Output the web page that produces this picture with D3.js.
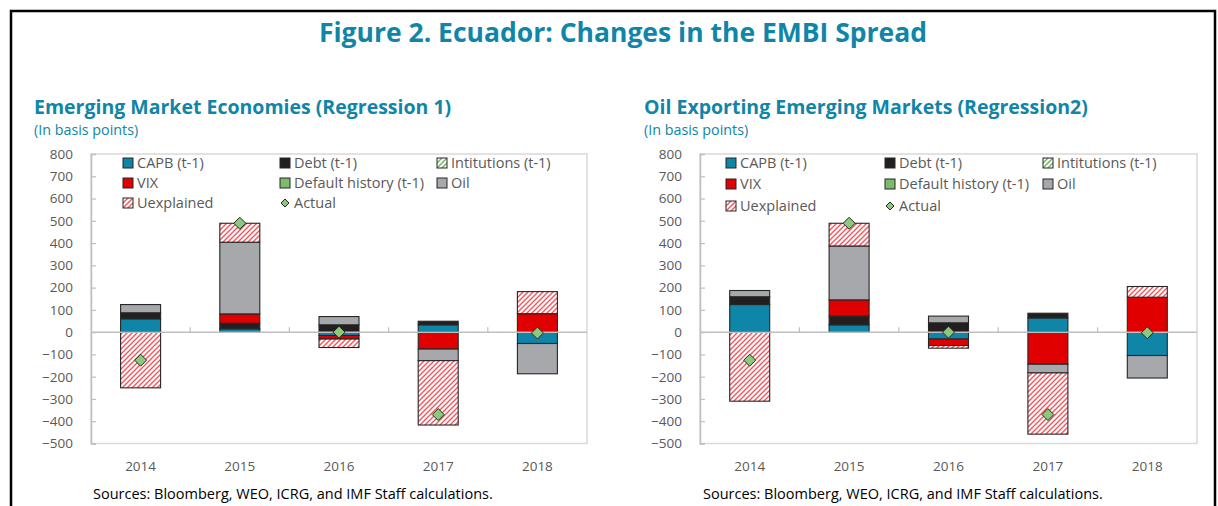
<!DOCTYPE html>
<html>
<head>
<meta charset="utf-8">
<script src="https://cdn.jsdelivr.net/npm/d3@7"></script>
<style>
  body { margin: 0; background: #fff; }
  svg text { font-family: "Open Sans", "Noto Sans", sans-serif; }
</style>
</head>
<body>
<svg id="frame"></svg>
<script>
// size of the page
const FRAME_WIDTH = 1218;
const FRAME_HEIGHT = 506;

// data (basis points)
const years = ["2014", "2015", "2016", "2017", "2018"];
const seriesNames = ["CAPB (t-1)", "Debt (t-1)", "Intitutions (t-1)", "VIX",
                     "Default history (t-1)", "Oil", "Uexplained"];
const yTicks = [800, 700, 600, 500, 400, 300, 200, 100, 0, -100, -200, -300, -400, -500];

// regression 1
const capb1 = [60, 15, -15, 33, -51];
const debt1 = [27, 25, 33, 16, 0];
const inst1 = [0, 0, 0, 0, 0];
const vix1 = [0, 42, -16, -76, 83];
const default1 = [0, 0, 0, 0, 0];
const oil1 = [37, 322, 37, -52, -136];
const unexpl1 = [-250, 85, -38, -289, 99];
const actual1 = [-126, 489, 0, -370, -4];

// regression 2
const capb2 = [124, 33, -31, 64, -105];
const debt2 = [35, 39, 42, 21, 0];
const inst2 = [0, 0, 0, 0, 0];
const vix2 = [0, 73, -29, -144, 157];
const default2 = [0, 0, 0, 0, 0];
const oil2 = [28, 242, 30, -39, -101];
const unexpl2 = [-310, 102, -12, -275, 48];
const actual2 = [-126, 489, 0, -370, -3];

const TEAL = "#0f85a8";
const GREY_TEXT = "#595959";
const FILLS = ["#0f85a8", "#231f20", "url(#instPat)", "#e00000",
               "#7dbb6c", "#a6a8ab", "url(#unexplPat)"];

const FRAME1 = d3.select("#frame")
                  .attr("width", FRAME_WIDTH)
                  .attr("height", FRAME_HEIGHT);

// hatch patterns
const defs = FRAME1.append("defs");
function hatch(id, color) {
  const p = defs.append("pattern")
      .attr("id", id)
      .attr("patternUnits", "userSpaceOnUse")
      .attr("width", 5)
      .attr("height", 5);
  p.append("rect").attr("width", 5).attr("height", 5).attr("fill", "#fff");
  p.append("path")
      .attr("d", "M-1,1 l2,-2 M0,5 l5,-5 M4,6 l2,-2")
      .attr("stroke", color)
      .attr("stroke-width", 1.4);
}
hatch("unexplPat", "#f2545a");
hatch("instPat", "#6cb45a");

// diamond path, half-width h
function diamond(h) {
  return `M0,${-h} L${h},0 L0,${h} L${-h},0 Z`;
}

// outer frame lines
FRAME1.append("path")
    .attr("d", "M11,506 V11 H1215 V506")
    .attr("fill", "none")
    .attr("stroke", "#000")
    .attr("stroke-width", 2.5);

// main title
FRAME1.append("text")
    .attr("x", 623)
    .attr("y", 42)
    .attr("text-anchor", "middle")
    .attr("fill", TEAL)
    .attr("font-size", 26.5)
    .attr("font-weight", "bold")
    .text("Figure 2. Ecuador: Changes in the EMBI Spread");

// draws one panel
function drawPanel(opts) {
  const g = FRAME1.append("g");
  const left = opts.left, right = opts.right;
  const top = 154, bottom = 443.5;

  g.append("text")
      .attr("x", opts.titleX)
      .attr("y", 114)
      .attr("fill", TEAL)
      .attr("font-size", 19.5)
      .attr("font-weight", "bold")
      .text(opts.title);
  g.append("text")
      .attr("x", opts.titleX)
      .attr("y", 135)
      .attr("fill", TEAL)
      .attr("font-size", 14.3)
      .text("(In basis points)");

  const x = d3.scaleBand().domain(years).range([left, right]);
  const y = d3.scaleLinear().domain([-500, 800]).range([bottom, top]);

  // plot border
  g.append("rect")
      .attr("x", left)
      .attr("y", top)
      .attr("width", right - left)
      .attr("height", bottom - top)
      .attr("fill", "none")
      .attr("stroke", "#d9d9d9")
      .attr("stroke-width", 1.5);

  // y axis
  const yAxis = g.append("g")
      .attr("transform", `translate(${left},0)`)
      .call(d3.axisLeft(y).tickValues(yTicks).tickSize(-5).tickPadding(18));
  yAxis.select(".domain").attr("stroke", "#bfbfbf").attr("stroke-width", 1.5);
  yAxis.selectAll(".tick line").attr("stroke", "#bfbfbf").attr("stroke-width", 1.2);
  yAxis.selectAll(".tick text")
      .attr("fill", GREY_TEXT)
      .attr("font-size", 13.5)
      .attr("font-family", "'Open Sans', sans-serif");

  // stacked bars
  const rows = years.map((yr, i) => {
    const r = {year: yr};
    seriesNames.forEach((s, k) => { r[s] = opts.series[k][i]; });
    return r;
  });
  const stacked = d3.stack()
      .keys(seriesNames)
      .offset(d3.stackOffsetDiverging)(rows);

  const barW = 40;
  g.selectAll("g.layer")
      .data(stacked)
      .enter()
      .append("g")
        .attr("class", "layer")
        .attr("fill", (d, k) => FILLS[k])
      .selectAll("rect")
      .data((d) => d.filter((v) => v[1] - v[0] !== 0))
      .enter()
      .append("rect")
        .attr("x", (d) => x(d.data.year) + x.bandwidth() / 2 - barW / 2)
        .attr("width", barW)
        .attr("y", (d) => y(Math.max(d[0], d[1])))
        .attr("height", (d) => Math.abs(y(d[0]) - y(d[1])))
        .attr("stroke", "#262626")
        .attr("stroke-width", 1.1);

  // zero axis with category ticks
  const xAxis = g.append("g")
      .attr("transform", `translate(0,${y(0)})`);
  xAxis.append("line")
      .attr("x1", left).attr("x2", right)
      .attr("stroke", "#bfbfbf").attr("stroke-width", 1.5);
  xAxis.selectAll("line.cat")
      .data(years.slice(1))
      .enter()
      .append("line")
        .attr("class", "cat")
        .attr("x1", (d) => x(d)).attr("x2", (d) => x(d))
        .attr("y1", 0).attr("y2", -5)
        .attr("stroke", "#bfbfbf").attr("stroke-width", 1.2);

  // year labels
  g.selectAll("text.yr")
      .data(years)
      .enter()
      .append("text")
        .attr("class", "yr")
        .attr("x", (d) => x(d) + x.bandwidth() / 2)
        .attr("y", 471)
        .attr("text-anchor", "middle")
        .attr("fill", GREY_TEXT)
        .attr("font-size", 13.5)
        .text((d) => d);

  // actual diamonds
  g.selectAll("path.actual")
      .data(opts.actual)
      .enter()
      .append("path")
        .attr("class", "actual")
        .attr("d", diamond(6))
        .attr("transform", (d, i) => `translate(${x(years[i]) + x.bandwidth() / 2},${y(d)})`)
        .attr("fill", "#8cc97a")
        .attr("stroke", "#262626")
        .attr("stroke-width", 1);

  // legend
  const legendItems = [
    {name: "CAPB (t-1)", fill: FILLS[0]}, {name: "Debt (t-1)", fill: FILLS[1]},
    {name: "Intitutions (t-1)", fill: FILLS[2]}, {name: "VIX", fill: FILLS[3]},
    {name: "Default history (t-1)", fill: FILLS[4]}, {name: "Oil", fill: FILLS[5]},
    {name: "Uexplained", fill: FILLS[6]}, {name: "Actual", fill: null}
  ];
  const lg = g.selectAll("g.leg")
      .data(legendItems)
      .enter()
      .append("g")
        .attr("class", "leg")
        .attr("transform", (d, i) => `translate(${opts.legX[i % 3]},${opts.legY[Math.floor(i / 3)]})`);
  lg.filter((d) => d.fill !== null)
    .append("rect")
      .attr("x", 0).attr("y", -5)
      .attr("width", 10).attr("height", 10)
      .attr("fill", (d) => d.fill)
      .attr("stroke", "#262626")
      .attr("stroke-width", 1);
  lg.filter((d) => d.fill === null)
    .append("path")
      .attr("d", diamond(4))
      .attr("transform", "translate(5,0)")
      .attr("fill", "#8cc97a")
      .attr("stroke", "#262626")
      .attr("stroke-width", 1);
  lg.append("text")
      .attr("x", 14)
      .attr("y", 5)
      .attr("fill", GREY_TEXT)
      .attr("font-size", 14.5)
      .text((d) => d.name);

  // source note
  g.append("text")
      .attr("x", opts.srcX)
      .attr("y", 499)
      .attr("fill", "#000")
      .attr("font-size", 14.5)
      .text("Sources: Bloomberg, WEO, ICRG, and IMF Staff calculations.");
}

drawPanel({
  left: 91, right: 587, titleX: 34, srcX: 93,
  title: "Emerging Market Economies (Regression 1)",
  series: [capb1, debt1, inst1, vix1, default1, oil1, unexpl1],
  actual: actual1,
  legX: [123, 280, 437], legY: [163, 183, 203]
});

drawPanel({
  left: 700, right: 1197, titleX: 644, srcX: 703,
  title: "Oil Exporting Emerging Markets (Regression2)",
  series: [capb2, debt2, inst2, vix2, default2, oil2, unexpl2],
  actual: actual2,
  legX: [726, 885, 1043], legY: [163, 184, 206]
});
</script>
</body>
</html>
